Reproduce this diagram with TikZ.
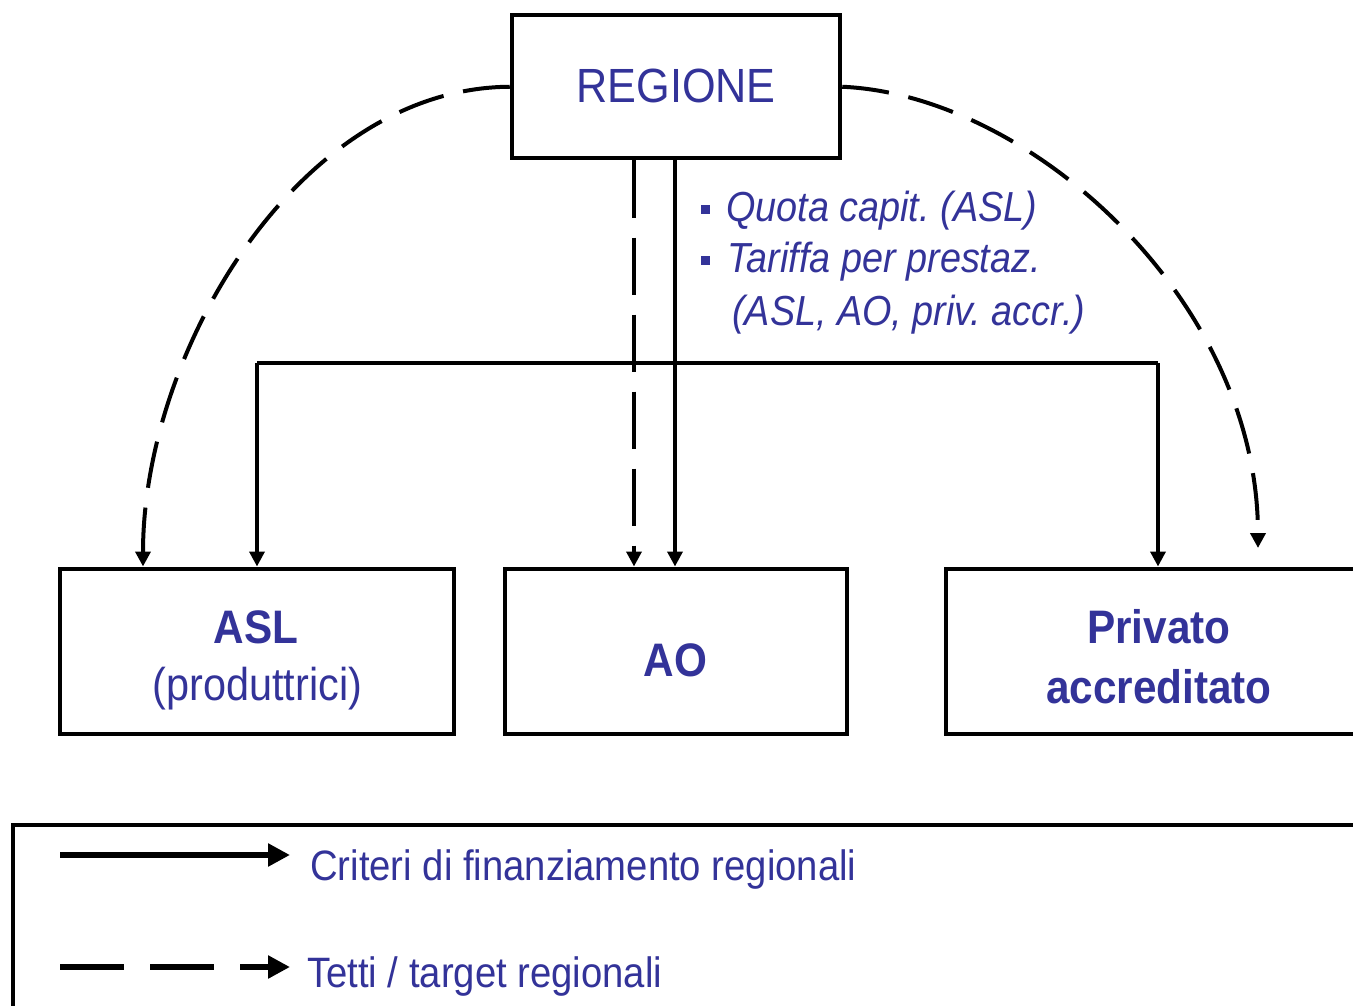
\documentclass[tikz,border=0pt]{standalone}
\usepackage{fontspec}
\newfontfamily\lblfont[FakeStretch=0.9]{Liberation Sans}
\usetikzlibrary{arrows.meta}
\definecolor{txtblue}{RGB}{51,51,153}
\frenchspacing
\begin{document}
\begin{tikzpicture}[x=1pt,y=-1pt,
  box/.style={draw=black, line width=4pt, inner sep=0pt, minimum height=165pt},
  txt/.style={text=txtblue, inner sep=0pt, anchor=base},
  fbig/.style={font=\lblfont\fontsize{48}{50}\selectfont},
  fbox/.style={font=\lblfont\bfseries\fontsize{47}{49}\selectfont},
  fsub/.style={font=\lblfont\fontsize{46}{48}\selectfont},
  fnote/.style={font=\lblfont\itshape\fontsize{42}{44}\selectfont},
  fleg/.style={font=\lblfont\fontsize{42.5}{44}\selectfont},
  conn/.style={line width=3.6pt, -{Triangle[width=15pt,length=15pt]}},
  dashconn/.style={conn, line width=4pt, dash pattern=on 47pt off 20pt},
  legline/.style={line width=6pt, -{Triangle[width=22pt,length=22pt]}},
]
\useasboundingbox (0,0) rectangle (1353,1006);
\fill[white] (0,0) rectangle (1353,1006);

% boxes
\node[box, minimum width=328.5pt, minimum height=143.5pt] (reg) at (676,86.75) {};
\node[box, minimum width=393.5pt] (asl) at (256.75,651) {};
\node[box, minimum width=342.5pt] (ao) at (675.75,651) {};
\node[box, minimum width=429.5pt] (priv) at (1160.25,651) {};
\node[box, minimum width=1362pt, minimum height=205pt] (leg) at (694,927.5) {};

% texts
\node[txt, fbig] (tReg) at (676,103) {REGIONE};
\node[txt, fbox] (tAsl) at (256,643) {ASL};
\node[txt, fsub] (tProd) at (257.5,700) {(produttrici)};
\node[txt, fbox] (tAo) at (675.5,676) {AO};
\node[txt, fbox] (tPriv) at (1159,643) {Privato};
\node[txt, fbox] (tAcc) at (1159,703) {accreditato};

\fill[txtblue] (700.5,205) rectangle (709.5,214);
\fill[txtblue] (700.5,256) rectangle (709.5,265);
\node[txt, fnote, anchor=base west] (n1) at (726,222) {Quota capit.\ (ASL)};
\node[txt, fnote, anchor=base west] (n2) at (727,272) {Tariffa per prestaz.};
\node[txt, fnote, anchor=base west] (n3) at (732,325) {(ASL, AO, priv.\ accr.)};

\node[txt, fleg, anchor=base west] (l1) at (310,880) {Criteri di finanziamento regionali};
\node[txt, fleg, anchor=base west] (l2) at (307,987) {Tetti / target regionali};

% connectors
\coordinate (jl) at (257,363);
\coordinate (jr) at (1158,363);
\coordinate (dv) at (634,0);
\coordinate (sv) at (675,0);
\coordinate (ltip) at (143,0);
\coordinate (rtip) at (1258,548);

\draw[conn] (reg.south -| sv) -- (ao.north -| sv);
\draw[line width=3.6pt] (jl) -- (jr);
\draw[conn] (jl) -- (asl.north -| jl);
\draw[conn] (jr) -- (priv.north -| jr);
\draw[conn, dash pattern=on 57pt off 20pt] (reg.south -| dv) -- (ao.north -| dv);

\draw[dashconn] (reg.west) .. controls (300,88) and (143,350) .. (asl.north -| ltip);
\draw[dashconn] (reg.east) .. controls (1030,95) and (1258,300) .. (rtip);

% legend arrows
\coordinate (la1) at (60,855);
\coordinate (la2) at (290,855);
\coordinate (lb1) at (60,967);
\coordinate (lb2) at (290,967);
\draw[legline] (la1) -- (la2);
\draw[legline, dash pattern=on 64pt off 26pt] (lb1) -- (lb2);
\end{tikzpicture}
\end{document}
